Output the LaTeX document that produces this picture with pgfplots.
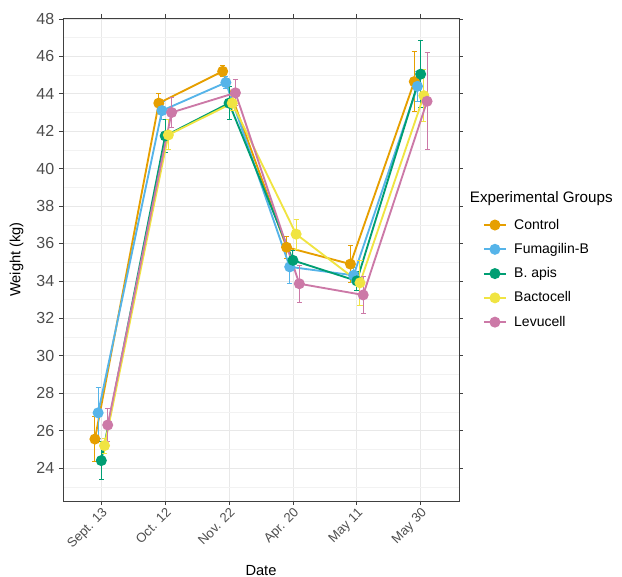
\documentclass[border=0pt]{standalone}
\usepackage{pgfplots}
\pgfplotsset{compat=1.18}
\usepackage{fontspec}
\setmainfont{Liberation Sans}
\definecolor{cCon}{HTML}{E69F00}
\definecolor{cFum}{HTML}{56B4E9}
\definecolor{cBap}{HTML}{009E73}
\definecolor{cBac}{HTML}{F0E442}
\definecolor{cLev}{HTML}{CC79A7}
\definecolor{tickgray}{HTML}{4D4D4D}
\begin{document}
\begin{tikzpicture}
\begin{axis}[
  at={(0,0)}, anchor=south west,
  scale only axis, width=297pt, height=362.25pt,
  xmin=0.4, xmax=6.6, ymin=22.24, ymax=48.05,
  xtick={1,2,3,4,5,6},
  xticklabels={Sept. 13, Oct. 12, Nov. 22, Apr. 20, May 11, May 30},
  ytick={24,26,...,48},
  minor ytick={23,25,...,47},
  grid=both,
  major grid style={black!9, line width=0.55pt},
  minor grid style={black!5, line width=0.3pt},
  tick align=outside, major tick length=3pt, minor tick length=0pt,
  tick style={black!75, line width=0.6pt},
  axis line style={black!75, line width=0.6pt},
  /pgf/number format/assume math mode=true,
  x tick label style={rotate=45, anchor=north east, font=\fontsize{9.8}{11}\selectfont, text=tickgray, inner sep=1pt},
  y tick label style={font=\fontsize{12}{14}\selectfont, text=tickgray},
  xlabel={Date}, ylabel={Weight (kg)},
  xlabel style={yshift=-6pt},
  ylabel style={yshift=3pt},
  label style={font=\fontsize{11}{13}\selectfont},
  legend image code/.code={\draw[mark repeat=2,mark phase=2,#1] plot coordinates {(0pt,0pt) (8.25pt,0pt) (16.5pt,0pt)};},
  legend style={draw=none, fill=none, at={(rel axis cs:1.06,0.59)}, anchor=north west,
     font=\fontsize{10.5}{12}\selectfont, row sep=5.1pt, inner sep=0pt, cells={anchor=west},
     nodes={inner xsep=5.5pt}},
  every axis plot/.append style={line width=1.4pt, mark=*, mark size=3.4pt,
     error bars/y dir=both, error bars/y explicit,
     error bars/error bar style={line width=0.75pt},
     error bars/error mark options={rotate=90, mark size=1.9pt, line width=0.75pt}},
]
\addplot[cCon] table[x=x, y=y, y error=e] {
x y e
0.90 25.55 1.2
1.90 43.50 0.5
2.90 45.20 0.3
3.90 35.80 0.6
4.90 34.90 1.0
5.90 44.65 1.6
};
\addlegendentry{Control}
\addplot[cFum] table[x=x, y=y, y error=e] {
x y e
0.95 26.95 1.35
1.95 43.10 0.5
2.95 44.60 0.3
3.95 34.75 0.9
4.95 34.30 0.4
5.95 44.40 0.8
};
\addlegendentry{Fumagilin-B}
\addplot[cBap] table[x=x, y=y, y error=e] {
x y e
1.00 24.40 1.0
2.00 41.75 0.9
3.00 43.50 0.9
4.00 35.10 0.5
5.00 34.00 0.5
6.00 45.05 1.8
};
\addlegendentry{B. apis}
\addplot[cBac] table[x=x, y=y, y error=e] {
x y e
1.05 25.20 0.4
2.05 41.80 0.8
3.05 43.50 0.4
4.05 36.50 0.8
5.05 33.90 1.2
6.05 43.90 1.4
};
\addlegendentry{Bactocell}
\addplot[cLev] table[x=x, y=y, y error=e] {
x y e
1.10 26.30 0.9
2.10 43.00 0.8
3.10 44.05 0.7
4.10 33.85 1.0
5.10 33.25 1.0
6.10 43.60 2.6
};
\addlegendentry{Levucell}
\end{axis}
\node[anchor=west, inner sep=0pt, font=\fontsize{11.4}{13}\selectfont] at (305pt,227pt) {Experimental Groups};
\pgfresetboundingbox
\useasboundingbox (-47.25pt,-57pt) rectangle (419.25pt,375.75pt);
\end{tikzpicture}
\end{document}
